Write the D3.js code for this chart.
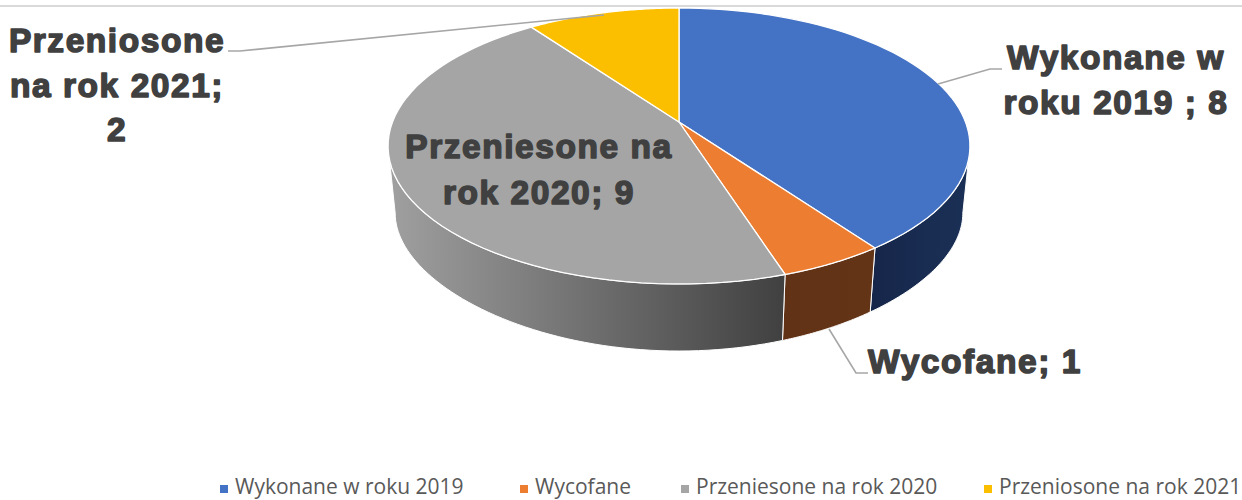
<!DOCTYPE html>
<html><head><meta charset="utf-8">
<script src="https://cdn.jsdelivr.net/npm/d3@7/dist/d3.min.js"></script>
<style>html,body{margin:0;padding:0;background:#fff}svg{display:block}</style>
</head><body><svg id="c" width="1242" height="500"></svg>
<script>
const categories = ["Wykonane w roku 2019","Wycofane","Przeniesone na rok 2020","Przeniosone na rok 2021"];
const values = [8,1,9,2];
const topColors = ["#4472c4","#ed7d31","#a5a5a5","#fcbf00"];
const wallStops = [["#16264a","#1b3056"],["#613215","#633416"],["#a0a0a0","#404040"],["#997300","#997300"]];
const labelLines = [["Wykonane w","roku 2019 ; 8"],["Wycofane; 1"],["Przeniesone na","rok 2020; 9"],["Przeniosone","na rok 2021;","2"]];

const svg = d3.select("#c");
const defs = svg.append("defs");
const W=1242,cx=679,k=0.174;
const topP = {cy:122,a:133.8,b:286.5,ky:0.174};
const botP = {cy:192,a:115.6,b:279.5,ky:0.273};
const proj=(P,t)=>{const X=Math.sin(t),Y=-Math.cos(t);return [cx+P.b*X/(1-k*Y),P.cy+P.a*Y/(1-P.ky*Y)];};
const arcs=d3.pie().sort(null).value(d=>d)(values);
const samples=(a,b)=>d3.range(0,61).map(i=>a+(b-a)*i/60);
const line=d3.line();
svg.append("line").attr("x1",0).attr("x2",W).attr("y1",6).attr("y2",6).attr("stroke","#d9d9d9").attr("stroke-width",2);

// walls (only the near half of the rim faces the viewer)
const rimA=Math.PI/2+Math.asin(k), rimB=2*Math.PI-rimA;
arcs.forEach((d,i)=>{
  const a=Math.max(d.startAngle,rimA),b=Math.min(d.endAngle,rimB);
  if(a>=b) return;
  const ts=samples(a,b);
  const pts=[...ts.map(t=>proj(topP,t)),...ts.slice().reverse().map(t=>proj(botP,t))];
  const xs=pts.map(p=>p[0]);
  const g=defs.append("linearGradient").attr("id","w"+i).attr("gradientUnits","userSpaceOnUse")
    .attr("x1",d3.min(xs)).attr("x2",d3.max(xs)).attr("y1",0).attr("y2",0);
  g.append("stop").attr("offset",0).attr("stop-color",wallStops[i][0]);
  g.append("stop").attr("offset",1).attr("stop-color",wallStops[i][1]);
  svg.append("path").attr("d",line(pts)+"Z").attr("fill",`url(#w${i})`).attr("stroke","#fff").attr("stroke-width",1).attr("stroke-linejoin","round");
});
// top face
arcs.forEach((d,i)=>{
  const pts=[[cx,topP.cy],...samples(d.startAngle,d.endAngle).map(t=>proj(topP,t))];
  svg.append("path").attr("d",line(pts)+"Z").attr("fill",topColors[i]).attr("stroke","#fff").attr("stroke-width",1.3).attr("stroke-linejoin","round");
});
// leader lines
const leaders=[[[938,84],[990,69],[1002,69]],[[829,329],[856,373],[868,373]],[[604,15],[240,51],[228,51]]];
leaders.forEach(l=>svg.append("path").attr("d",line(l)).attr("fill","none").attr("stroke","#a6a6a6").attr("stroke-width",1.6));
// labels
const labelPos=[[1116,[69,114]],[975,[373]],[539,[158,204]],[117,[52,97,141]]];
const lab=svg.append("g").attr("font-family","'Liberation Sans',Arial,sans-serif").attr("font-weight",700).attr("font-size",33.5).attr("letter-spacing",1.55).attr("fill","#404040").attr("text-anchor","middle").attr("stroke","#404040").attr("stroke-width",1.5).attr("stroke-linejoin","round");
labelLines.forEach((ls,i)=>ls.forEach((s,j)=>lab.append("text").attr("x",labelPos[i][0]).attr("y",labelPos[i][1][j]).text(s)));
// legend
const legX=[235,535,696,999];
const leg=svg.append("g").attr("font-family","'Open Sans',sans-serif").attr("font-size",21).attr("fill","#595959");
categories.forEach((c,i)=>{
  leg.append("rect").attr("x",legX[i]-15).attr("y",485).attr("width",8).attr("height",8).attr("fill",topColors[i]);
  leg.append("text").attr("x",legX[i]).attr("y",494).text(c);
});
</script></body></html>
